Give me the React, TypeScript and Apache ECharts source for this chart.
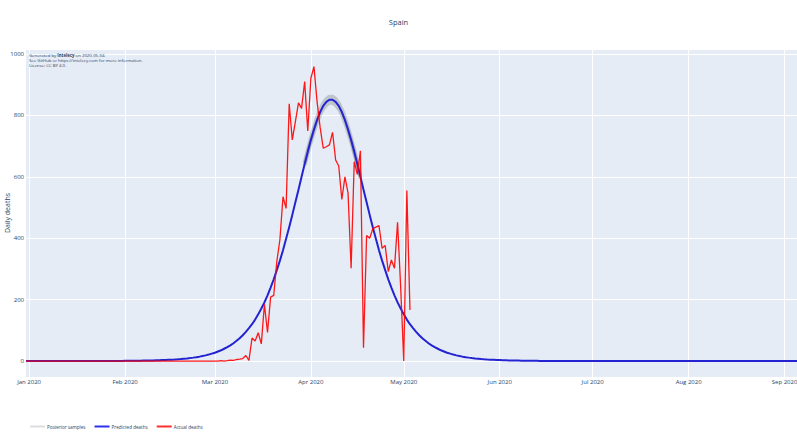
import React, { useEffect, useRef } from "react";
import * as echarts from "echarts";

// ---- data ----
const startDate = "2019-12-31";
const dayCount = 250; // 2019-12-31 .. 2020-09-05

const monthNames = ["Jan", "Feb", "Mar", "Apr", "May", "Jun", "Jul", "Aug", "Sep", "Oct", "Nov", "Dec"];
const yTicks = [0, 200, 400, 600, 800, 1000];

// Actual deaths, 2019-12-31 .. 2020-02-29 (61 days)
const actualDecFeb = [
  0, 0, 0, 0, 0, 0, 0, 0, 0, 0, 0, 0, 0, 0, 0, 0, 0, 0, 0, 0,
  0, 0, 0, 0, 0, 0, 0, 0, 0, 0, 0, 0, 0, 0, 0, 0, 0, 0, 0, 0,
  0, 0, 0, 0, 0, 0, 0, 0, 0, 0, 0, 0, 0, 0, 0, 0, 0, 0, 0, 0, 0,
];
const actualMar = [0, 0, 1, 0, 1, 3, 2, 5, 6, 8, 18, 2, 75, 65, 92, 56, 185, 93, 208, 214, 324, 395, 535, 497, 838, 720, 780, 841, 823, 910, 749];
const actualApr = [921, 959, 845, 760, 693, 698, 704, 745, 655, 635, 526, 600, 548, 302, 649, 608, 685, 43, 409, 400, 431, 436, 441, 367, 376, 291, 329, 302, 452, 240];
const actualMay = [0, 555, 166];

// Predicted deaths, rising part 2019-12-31 .. 2020-04-06 (99 days)
const predictedRise = [
  0, 0, 0, 0, 0, 0, 0, 0, 0, 0, 0, 0, 0, 0, 0, 0, 0, 0, 0,
  0.1, 0.1, 0.1, 0.2, 0.2, 0.2, 0.2, 0.3, 0.3, 0.4, 0.4, 0.5, 0.5, 0.6,
  0.7, 0.8, 1.0, 1.1, 1.2, 1.4, 1.6, 1.8, 2.1, 2.4, 2.7, 3.1, 3.5, 4.0, 4.5, 5.1, 5.8, 6.6, 7.6, 8.6, 9.8,
  11.1, 12.6, 14.3, 16.3, 18.5, 21, 24, 27, 31, 35, 40, 45, 51, 58, 66, 74, 84, 95, 107, 120, 135, 152,
  171, 191, 214, 239, 266, 296, 327, 361, 398, 436, 476, 517, 558, 600, 642, 682, 720, 754, 785, 811, 831, 844, 851,
];
// Predicted deaths, falling part 2020-04-07 .. 2020-09-05 (151 days)
const predictedFall = [
  851, 844, 831, 811, 785, 754, 720, 682, 642, 600, 558, 517, 476, 436, 398, 361, 327, 296, 266, 239,
  214, 191, 171, 152, 135, 120, 107, 95, 84, 74, 66, 58, 51, 45, 40, 35, 31, 27, 24, 21,
  18.5, 16.3, 14.3, 12.6, 11.1, 9.8, 8.6, 7.6, 6.6, 5.8, 5.1, 4.5, 4.0, 3.5, 3.1, 2.7, 2.4, 2.1, 1.8, 1.6,
  1.4, 1.2, 1.1, 1.0, 0.8, 0.7, 0.6, 0.5, 0.5, 0.4, 0.4, 0.3, 0.3, 0.2, 0.2, 0.2, 0.2, 0.1, 0.1, 0.1,
  0, 0, 0, 0, 0, 0, 0, 0, 0, 0, 0, 0, 0, 0, 0, 0, 0, 0, 0, 0,
  0, 0, 0, 0, 0, 0, 0, 0, 0, 0, 0, 0, 0, 0, 0, 0, 0, 0, 0, 0,
  0, 0, 0, 0, 0, 0, 0, 0, 0, 0, 0, 0, 0, 0, 0, 0, 0, 0, 0, 0,
  0, 0, 0, 0, 0, 0, 0, 0, 0, 0, 0,
];

// Posterior samples visible around the peak, from 2020-03-30
const posteriorStart = "2020-03-30";
const posteriorUpper = [646, 687, 726, 761, 793, 819, 840, 854, 861, 861, 854, 840, 819, 793, 761, 726, 687, 646, 604];
const posteriorLower = [638, 677, 714, 747, 777, 803, 822, 834, 841, 841, 834, 822, 803, 777, 747, 714, 677, 638, 596];

// ---- derived ----
const categories: string[] = [];
{
  const t0 = Date.parse(startDate + "T00:00:00Z");
  for (let i = 0; i < dayCount; i++) {
    categories.push(new Date(t0 + i * 86400000).toISOString().slice(0, 10));
  }
}
const actualDeaths = [...actualDecFeb, ...actualMar, ...actualApr, ...actualMay];
const predictedDeaths = [...predictedRise, ...predictedFall];

function padAt(start: string, values: number[]) {
  const idx = categories.indexOf(start);
  return categories.map((_, i) => (i >= idx && i < idx + values.length ? values[i - idx] : null));
}

const TXT = "#2a3f5f";
const FONT = "Open Sans";

export default function App() {
  const ref = useRef<HTMLDivElement>(null);
  useEffect(() => {
    if (!ref.current) return;
    const chart = echarts.init(ref.current, undefined, { renderer: "svg" });
    const isMonthStart = (_i: number, v: string) => v.endsWith("-01");
    const note = { fontSize: 4.3, lineHeight: 5, height: 5, verticalAlign: "middle", fill: TXT, fontFamily: FONT };
    chart.setOption({
      animation: false,
      backgroundColor: "#fff",
      textStyle: { fontFamily: FONT },
      title: {
        text: "Spain",
        left: "center",
        top: 13,
        textStyle: { fontSize: 7.5, fontWeight: "normal", color: TXT, fontFamily: FONT },
      },
      grid: {
        left: 26,
        right: 0,
        top: 50,
        bottom: 67,
        outerBoundsMode: "none",
        containLabel: false,
        show: true,
        backgroundColor: "#E5ECF6",
        borderWidth: 0,
      },
      legend: {
        left: 30,
        top: 424,
        padding: 0,
        icon: "rect",
        itemWidth: 15,
        itemHeight: 2,
        itemGap: 9,
        textStyle: { fontSize: 4.6, color: TXT, fontFamily: FONT, padding: [0, 0, 0, -3] },
        data: [
          { name: "Posterior samples", itemStyle: { color: "#dddddd" } },
          { name: "Predicted deaths", itemStyle: { color: "#3030f0" } },
          { name: "Actual deaths", itemStyle: { color: "#ff3030" } },
        ],
      },
      xAxis: {
        type: "category",
        data: categories,
        boundaryGap: false,
        axisLine: { show: false },
        axisTick: { show: false },
        axisLabel: {
          interval: isMonthStart,
          formatter: (v: string) => {
            const [y, m] = v.split("-");
            return monthNames[Number(m) - 1] + " " + y;
          },
          fontSize: 6,
          color: TXT,
          fontFamily: FONT,
          margin: 2,
        },
        splitLine: { show: true, interval: isMonthStart, lineStyle: { color: "#ffffff", width: 1 } },
      },
      yAxis: {
        type: "value",
        min: -52,
        max: 1013,
        axisLine: { show: false },
        axisTick: { show: false, customValues: yTicks },
        axisLabel: {
          customValues: yTicks,
          formatter: (v: number) => String(v),
          fontSize: 6,
          color: TXT,
          fontFamily: FONT,
          margin: 2,
        },
        splitLine: { show: true, lineStyle: { color: "#ffffff", width: 1 } },
      },
      graphic: [
        {
          type: "text",
          x: 7,
          y: 213,
          rotation: Math.PI / 2,
          style: {
            text: "Daily deaths",
            fontSize: 7,
            fill: TXT,
            fontFamily: FONT,
            align: "center",
            verticalAlign: "middle",
          },
        },
        {
          type: "text",
          left: 29,
          top: 52,
          z: 100,
          style: {
            text:
              "{n|Generated by }{b|Intelecy}{n| on 2020-05-04.}\n{n|See GitHub or https://intelecy.com for more information.}\n{n|License: CC BY 4.0.}",
            fontSize: 4.3,
            lineHeight: 5,
            fill: TXT,
            fontFamily: FONT,
            rich: { n: { ...note }, b: { ...note, fontWeight: "bold" } },
          },
        },
      ],
      series: [
        {
          name: "Posterior samples",
          type: "line",
          data: padAt(posteriorStart, posteriorUpper),
          symbol: "none",
          color: "#dddddd",
          lineStyle: { color: "rgba(60,60,60,0.22)", width: 4 },
          silent: true,
        },
        {
          name: "Posterior samples",
          type: "line",
          data: padAt(posteriorStart, posteriorLower),
          symbol: "none",
          color: "#dddddd",
          lineStyle: { color: "rgba(60,60,60,0.22)", width: 4 },
          silent: true,
        },
        {
          name: "Predicted deaths",
          type: "line",
          data: predictedDeaths,
          symbol: "none",
          color: "#3030f0",
          lineStyle: { color: "#2323d2", width: 2 },
        },
        {
          name: "Actual deaths",
          type: "line",
          data: actualDeaths,
          symbol: "none",
          color: "#ff3030",
          lineStyle: { color: "#ff0000", width: 1.3, opacity: 0.9 },
        },
      ],
    });
    return () => chart.dispose();
  }, []);
  return <div ref={ref} style={{ position: "fixed", left: 0, top: 0, width: 797, height: 444 }} />;
}
